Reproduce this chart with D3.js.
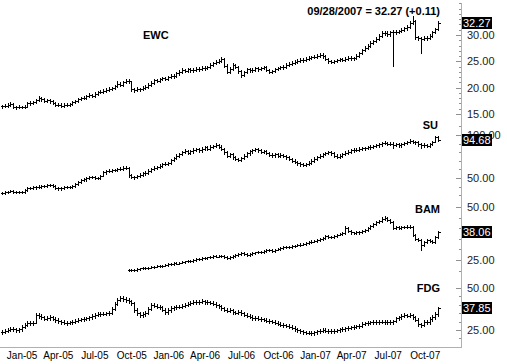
<!DOCTYPE html>
<html>
<head>
<meta charset="utf-8">
<script src="https://cdn.jsdelivr.net/npm/d3@7"></script>
<style>
body { margin: 0; background: #fff; }
svg { display: block; font-family: "Liberation Sans", Arial, sans-serif; }
</style>
</head>
<body>
<svg id="vis"></svg>
<script>
const plotWidth = 507;
const plotHeight = 364;
const axisX = 461;
const svg = d3.select('#vis')
            .attr('width', plotWidth)
            .attr('height', plotHeight);

// weekly bars, Friday closes
const firstWeek = '2004-10-08';
const lastWeek = '2007-09-28';
const monthLabels = ['Jan-05', 'Apr-05', 'Jul-05', 'Oct-05', 'Jan-06', 'Apr-06',
                     'Jul-06', 'Oct-06', 'Jan-07', 'Apr-07', 'Jul-07', 'Oct-07'];
const title = '09/28/2007 = 32.27 (+0.11)';

const ewcClose = [16.5,16.6,16.8,16.9,16.4,16.3,16.4,16.3,16.4,17.0,
17.1,17.2,17.6,18.0,17.8,17.5,17.6,17.4,17.1,16.7,
16.8,16.6,16.8,16.7,16.9,17.2,17.5,17.8,18.0,18.1,
18.4,18.6,18.5,18.8,19.1,19.2,19.4,19.6,19.8,19.9,
20.3,20.7,20.6,21.0,21.3,21.2,19.7,19.6,19.8,19.7,
20.0,20.2,20.5,20.9,21.4,21.3,21.6,21.8,21.7,22.0,
22.3,22.2,22.7,23.0,23.4,23.2,23.5,23.3,23.4,23.6,
23.5,23.8,23.7,23.9,24.3,24.6,24.9,25.1,25.4,24.2,
23.0,23.6,24.3,24.0,23.1,22.4,22.9,23.5,23.3,23.4,
23.7,23.5,23.7,23.9,23.4,23.0,23.1,23.5,23.7,23.9,
24.0,24.3,24.5,24.7,24.9,25.1,25.3,25.2,25.5,25.7,
25.8,25.9,26.1,26.2,26.0,25.5,25.0,24.9,25.0,25.2,
25.4,25.3,25.5,25.7,25.6,25.6,26.0,26.5,27.1,27.6,
28.0,28.5,28.8,29.3,29.8,30.3,30.4,30.2,30.5,30.6,
30.5,30.7,30.9,31.3,31.5,32.2,32.7,29.6,29.4,29.3,
29.5,29.4,29.8,30.5,31.1,32.27];
const ewcHigh = [16.8,16.9,17.0,17.2,17.1,16.6,16.7,16.6,16.7,17.2,
17.4,17.5,17.9,18.4,18.2,18.0,17.9,17.8,17.6,17.3,
17.0,17.0,17.1,17.0,17.1,17.4,17.7,18.1,18.3,18.4,
18.7,18.9,18.8,19.1,19.4,19.5,19.7,19.9,20.1,20.2,
20.6,21.2,21.0,21.3,21.7,21.6,21.3,20.0,20.1,20.0,
20.3,20.5,20.8,21.2,21.7,21.7,21.9,22.1,22.1,22.3,
22.6,22.6,23.0,23.3,23.7,23.6,23.8,23.7,23.7,23.9,
23.9,24.1,24.1,24.2,24.6,24.9,25.2,25.4,25.8,25.6,
24.4,23.9,24.6,24.5,24.2,23.3,23.2,23.8,23.8,23.7,
24.0,24.0,24.0,24.2,24.1,23.6,23.4,23.8,24.0,24.2,
24.3,24.6,24.8,25.0,25.2,25.4,25.6,25.6,25.8,26.0,
26.1,26.2,26.4,26.6,26.5,26.2,25.7,25.3,25.3,25.5,
25.7,25.7,25.8,26.0,26.0,25.9,26.3,26.8,27.4,27.9,
28.3,28.8,29.1,29.6,30.1,30.7,30.8,30.7,30.8,31.0,
30.9,31.0,31.3,31.6,31.9,32.6,33.6,32.9,29.9,29.7,
29.8,29.8,30.1,30.8,31.4,32.6];
const ewcLow = [16.2,16.3,16.4,16.6,16.2,16.0,16.1,16.1,16.1,16.3,
16.8,16.9,17.0,17.4,17.5,17.2,17.3,17.1,16.9,16.5,
16.5,16.3,16.4,16.5,16.5,16.7,17.0,17.3,17.6,17.8,
17.9,18.2,18.2,18.3,18.6,18.9,19.0,19.2,19.4,19.5,
19.7,20.1,20.3,20.4,20.8,20.9,19.4,19.2,19.3,19.4,
19.5,19.8,20.0,20.3,20.7,21.0,21.1,21.4,21.4,21.5,
21.8,21.9,22.0,22.5,22.8,22.9,23.0,23.0,23.0,23.2,
23.2,23.3,23.4,23.5,23.7,24.1,24.4,24.7,24.9,24.0,
22.7,22.8,23.4,23.7,22.8,22.1,22.2,22.7,23.0,23.0,
23.2,23.2,23.3,23.5,23.1,22.7,22.8,22.9,23.3,23.5,
23.6,23.8,24.1,24.3,24.5,24.7,24.9,24.9,25.0,25.3,
25.5,25.6,25.7,25.9,25.7,25.2,24.7,24.6,24.6,24.8,
25.0,25.0,25.1,25.3,25.3,25.3,25.4,25.8,26.3,26.9,
27.4,27.8,28.3,28.6,29.1,29.6,30.0,29.9,29.9,24.1,
30.2,30.3,30.5,30.7,31.0,31.3,32.0,29.3,29.1,26.6,
29.0,29.1,29.2,29.6,30.3,30.9];

const suClose = [32.6,33.5,34.2,34.9,34.0,33.5,33.8,33.7,35.5,38.0,
38.6,39.4,39.0,40.0,40.5,41.0,41.5,42.0,40.5,38.5,
37.8,38.6,39.0,39.2,39.5,40.3,42.5,45.0,47.5,48.3,
49.5,51.0,51.2,50.2,50.0,52.5,56.5,57.8,58.5,59.0,
59.3,60.2,61.0,61.8,61.5,53.0,51.2,51.0,52.5,54.0,
55.5,56.0,58.5,60.5,62.0,62.8,64.5,66.0,66.5,67.4,
70.5,73.0,76.0,77.5,80.0,81.5,79.0,81.0,82.6,83.5,
82.0,84.0,85.5,84.0,86.0,87.0,88.5,86.5,84.0,80.0,
76.0,77.5,74.0,72.0,71.0,73.0,76.0,78.5,81.0,82.6,
83.5,82.0,80.5,81.5,79.0,77.0,76.5,77.5,76.0,77.0,
75.5,74.0,72.0,70.0,68.5,67.0,66.0,65.0,66.5,68.0,
70.0,72.5,74.0,76.0,77.5,79.0,80.0,78.5,76.0,74.5,
76.0,78.0,79.5,80.5,82.0,83.0,82.5,84.0,85.0,84.5,
85.5,86.5,87.0,88.0,89.0,90.5,91.0,89.5,90.0,88.5,
89.0,88.0,89.5,90.5,91.5,93.0,92.0,91.5,89.0,88.0,
88.5,87.5,89.0,92.0,97.5,94.68];
const suHigh = [33.8,34.8,35.4,36.3,35.9,35.2,35.0,35.1,36.8,39.3,
40.1,40.9,40.6,41.6,42.0,42.4,43.0,43.6,43.2,41.4,
39.6,40.0,40.4,40.7,41.0,41.8,43.9,46.5,49.0,49.8,
51.0,52.6,52.9,52.6,51.7,54.0,58.0,59.4,60.0,60.6,
61.0,61.8,62.7,63.5,63.4,62.4,54.2,52.8,54.0,55.6,
57.0,57.6,60.0,62.0,63.6,64.5,66.0,67.6,68.2,69.0,
72.0,74.6,77.6,79.2,81.8,83.2,83.0,82.6,84.4,85.2,
85.0,85.8,87.2,87.0,87.8,88.8,90.4,90.0,88.0,85.4,
81.4,79.2,78.8,75.6,73.6,74.6,77.5,80.0,82.6,84.2,
85.2,85.0,83.6,83.0,82.8,80.4,78.6,79.0,79.0,78.6,
78.4,77.0,75.4,73.4,71.6,70.0,68.4,67.4,68.0,69.6,
71.6,74.0,75.6,77.6,79.0,80.6,81.6,81.4,79.8,77.4,
77.6,79.6,81.0,82.0,83.6,84.6,84.4,85.6,86.6,86.4,
87.0,88.0,88.6,89.6,90.6,92.0,92.6,92.4,91.6,91.4,
90.6,90.4,91.0,92.0,93.2,94.8,94.6,93.6,92.8,90.6,
90.2,90.0,90.6,93.6,99.0,98.6];
const suLow = [31.4,31.5,32.4,33.2,32.8,32.1,32.2,32.4,33.1,35.0,
37.2,37.5,37.6,38.0,38.8,39.4,39.7,40.3,39.2,37.0,
36.2,36.5,37.4,37.8,37.9,38.3,39.6,41.8,44.2,46.2,
47.0,48.3,49.6,48.8,48.4,49.0,51.8,55.2,56.4,57.0,
57.6,57.8,58.8,59.6,60.0,51.5,49.5,49.3,49.6,51.2,
52.8,54.0,55.2,57.4,59.2,60.6,61.5,63.2,64.6,65.0,
66.5,69.4,72.0,74.6,76.4,78.6,77.4,77.6,79.6,81.0,
80.4,80.8,82.6,82.4,82.8,84.6,85.6,85.0,82.4,78.2,
74.4,74.6,72.2,70.4,69.2,69.6,71.8,74.8,77.2,79.6,
81.0,80.4,79.0,79.0,77.4,75.6,75.0,75.0,74.6,74.6,
74.0,72.4,70.6,68.4,67.0,65.4,64.2,63.4,63.8,65.2,
66.8,68.8,71.2,72.8,74.6,76.2,77.6,77.0,74.6,73.0,
73.2,74.8,76.8,78.2,79.2,80.8,81.0,81.2,82.8,83.0,
83.2,84.2,85.2,85.6,86.6,87.6,89.2,88.0,88.0,85.0,
87.0,86.6,86.6,88.0,89.2,90.2,90.4,89.8,87.4,85.2,
86.4,86.0,86.2,88.2,91.4,93.2];

// BAM begins later than the others
const bamFirstWeek = '2005-08-19';
const bamClose = [20.3,20.5,20.2,20.6,21.0,21.2,21.0,21.4,21.7,21.9,
22.2,22.0,22.4,22.8,23.0,23.2,23.5,23.3,23.8,24.0,
24.3,24.6,24.4,24.9,25.3,25.6,26.0,25.8,26.2,26.5,
26.8,26.6,27.0,26.9,26.3,26.0,26.5,26.8,27.3,27.8,
28.3,27.9,27.5,27.8,28.2,28.6,28.9,28.7,29.2,29.5,
29.7,29.4,29.9,30.3,30.6,30.9,31.2,31.0,31.5,31.8,
32.0,32.3,32.6,33.0,33.4,33.7,34.0,34.4,34.8,35.5,
36.2,36.0,35.7,36.4,37.0,37.3,37.8,40.0,38.6,38.0,
37.8,38.2,38.0,38.5,39.2,40.0,41.0,42.0,42.9,43.5,
44.5,44.8,44.0,43.0,40.0,40.6,40.3,40.7,40.5,40.8,
40.6,36.8,35.0,34.4,32.0,33.5,34.4,34.0,33.5,35.8,
38.06];
const bamHigh = [20.8,20.9,20.8,21.0,21.4,21.6,21.6,21.8,22.1,22.3,
22.6,22.6,22.8,23.2,23.4,23.6,23.9,23.9,24.2,24.5,
24.7,25.0,25.0,25.3,25.8,26.0,26.5,26.4,26.6,27.0,
27.3,27.2,27.5,27.5,27.3,26.7,26.9,27.2,27.7,28.2,
28.8,28.7,28.3,28.2,28.6,29.0,29.4,29.3,29.6,30.0,
30.2,30.1,30.3,30.8,31.0,31.4,31.6,31.6,31.9,32.3,
32.5,32.8,33.0,33.5,33.9,34.2,34.5,34.9,35.3,36.0,
36.8,36.7,36.4,36.9,37.5,37.8,38.3,41.0,40.4,39.0,
38.4,38.7,38.6,39.0,39.7,40.5,41.5,42.6,43.5,44.1,
45.1,45.6,45.3,44.5,43.4,41.2,41.0,41.2,41.1,41.3,
41.3,41.0,37.3,35.5,34.8,34.0,34.9,34.9,34.4,36.3,
38.5];
const bamLow = [19.9,20.0,19.8,19.9,20.3,20.6,20.6,20.7,21.0,21.3,
21.5,21.6,21.6,22.0,22.4,22.6,22.8,22.9,22.9,23.4,
23.6,23.9,24.0,24.0,24.5,24.9,25.2,25.3,25.4,25.8,
26.1,26.2,26.2,26.4,25.8,25.5,25.6,26.1,26.4,26.9,
27.4,27.4,27.0,27.1,27.4,27.8,28.2,28.3,28.3,28.8,
29.1,29.0,29.0,29.5,29.9,30.2,30.5,30.6,30.6,31.1,
31.4,31.6,31.9,32.2,32.6,33.0,33.3,33.6,34.0,34.4,
35.1,35.6,35.2,35.3,36.0,36.6,36.9,37.5,38.1,37.5,
37.3,37.4,37.5,37.6,38.1,38.8,39.6,40.6,41.6,42.4,
43.0,44.0,43.5,42.4,39.4,39.5,39.8,39.8,40.0,40.0,
40.1,36.2,34.5,33.8,29.7,31.5,33.0,33.4,33.0,33.1,
35.4];

const fdgClose = [23.8,24.5,25.2,25.6,25.3,25.0,25.4,26.8,28.2,29.2,
29.0,29.4,34.0,33.5,32.7,31.8,32.2,32.7,31.8,31.0,
30.3,29.8,29.4,29.2,29.6,30.0,30.6,31.0,31.4,31.8,
32.0,32.5,33.3,34.0,34.5,34.8,34.6,35.0,35.2,37.5,
40.5,42.9,44.0,43.5,42.9,42.0,41.0,36.9,35.0,33.9,
34.5,35.2,37.5,39.9,39.5,38.9,38.5,37.0,35.7,36.8,
38.0,38.4,38.7,38.9,39.5,39.9,40.5,41.2,41.7,41.5,
41.7,42.2,41.5,41.6,41.1,40.6,39.8,39.0,38.0,37.2,
36.5,36.8,35.7,35.4,35.8,35.0,34.2,33.5,33.0,32.0,
32.4,31.8,31.3,31.0,30.6,30.2,29.8,29.3,28.7,28.2,
27.8,27.4,26.8,26.2,25.5,24.8,24.2,23.8,23.5,23.3,
23.2,23.6,24.2,24.6,25.0,24.7,24.3,24.4,24.6,24.9,
25.3,25.6,25.9,26.2,26.5,26.8,27.2,27.6,28.6,28.9,
29.2,29.5,29.8,29.6,30.0,29.8,29.5,29.9,29.7,30.2,
32.0,32.5,33.4,33.9,33.6,33.9,32.7,31.0,28.5,28.0,
29.8,29.5,31.5,32.7,34.5,37.85];
const fdgHigh = [24.8,25.4,26.1,26.6,26.5,26.2,26.4,27.8,29.2,30.2,
30.1,30.5,35.4,35.2,34.4,33.6,33.2,33.7,33.6,32.7,
31.9,31.2,30.7,30.3,30.6,31.0,31.6,32.0,32.4,32.8,
33.0,33.5,34.3,35.0,35.5,35.8,35.7,36.0,36.2,38.6,
41.6,44.0,45.2,45.0,44.4,43.8,42.9,41.8,37.8,35.9,
35.5,36.2,38.5,41.0,40.9,40.4,39.8,39.4,37.9,37.8,
39.0,39.4,39.7,39.9,40.5,40.9,41.5,42.2,42.7,42.6,
42.7,43.2,43.1,42.6,42.5,42.0,41.5,40.7,39.9,38.9,
38.1,37.8,37.7,36.6,36.8,36.7,35.9,35.1,34.4,33.9,
33.4,33.3,32.7,32.2,31.9,31.5,31.1,30.7,30.2,29.6,
29.1,28.7,28.3,27.7,27.1,26.4,25.7,25.1,24.7,24.4,
24.2,24.6,25.2,25.6,26.0,25.9,25.6,25.3,25.5,25.8,
26.2,26.5,26.8,27.1,27.4,27.7,28.1,28.5,29.6,29.8,
30.1,30.4,30.8,30.7,31.0,30.9,30.7,30.8,30.8,31.2,
33.0,33.5,34.4,34.9,34.8,34.9,34.8,33.6,31.9,29.4,
30.8,30.7,32.5,33.7,35.5,38.8];
const fdgLow = [22.9,23.0,23.6,24.3,24.4,24.0,24.1,24.6,25.9,27.3,
28.0,28.1,29.0,32.4,31.6,30.8,30.9,31.2,30.8,30.0,
29.3,28.8,28.4,28.2,28.3,28.7,29.1,29.7,30.1,30.5,
30.9,31.1,31.6,32.4,33.1,33.6,33.7,33.7,34.1,34.6,
36.9,39.8,42.0,42.4,41.8,41.0,40.0,36.0,34.0,32.9,
33.0,33.6,34.6,37.0,38.6,38.0,37.6,36.1,34.8,34.8,
36.0,37.1,37.5,37.8,38.0,38.6,39.0,39.6,40.3,40.5,
40.6,40.8,40.6,40.6,40.2,39.7,38.9,38.1,37.1,36.3,
35.6,35.6,34.8,34.5,34.5,34.1,33.3,32.6,32.1,31.1,
31.1,30.9,30.4,30.1,29.7,29.3,28.9,28.4,27.8,27.3,
26.9,26.5,25.9,25.3,24.6,23.9,23.3,22.9,22.6,22.4,
22.3,22.3,22.7,23.3,23.7,23.8,23.4,23.4,23.5,23.7,
24.0,24.4,24.7,25.0,25.3,25.6,25.9,26.3,26.7,27.7,
28.0,28.3,28.6,28.7,28.7,28.9,28.6,28.6,28.8,28.8,
29.6,31.1,31.6,32.5,32.7,32.7,31.8,30.1,27.6,26.8,
27.1,28.6,28.6,30.6,31.8,33.6];


function main() {
    const parseDay = d3.timeParse('%Y-%m-%d');
    const weeks = d3.timeFriday.range(parseDay(firstWeek), d3.timeDay.offset(parseDay(lastWeek), 1));

    const x = d3.scaleTime()
                .domain([weeks[0], weeks[weeks.length - 1]])
                .range([2, 438]);

    const panels = [
        {name: 'EWC', close: ewcClose, high: ewcHigh, low: ewcLow, first: firstWeek,
         domain: [15, 30], range: [114, 35], top: 3, bottom: 117, minor: 1,
         major: [15, 20, 25, 30], label: [143, 39, 'start']},
        {name: 'SU', close: suClose, high: suHigh, low: suLow, first: firstWeek,
         domain: [50, 100], range: [178, 135], top: 118, bottom: 196, minor: 10,
         major: [50, 100], label: [438, 129, 'end']},
        {name: 'BAM', close: bamClose, high: bamHigh, low: bamLow, first: bamFirstWeek,
         domain: [25, 50], range: [260, 207], top: 199, bottom: 273, minor: 5,
         major: [25, 50], label: [440, 213, 'end']},
        {name: 'FDG', close: fdgClose, high: fdgHigh, low: fdgLow, first: firstWeek,
         domain: [25, 50], range: [330, 288], top: 281, bottom: 346, minor: 5,
         major: [25, 50], label: [440, 292, 'end']},
    ];

    // frame: right price axis and bottom date axis
    svg.append('line')
        .attr('x1', axisX + 0.5).attr('x2', axisX + 0.5)
        .attr('y1', 3).attr('y2', 347)
        .attr('stroke', '#b0b0b0');
    svg.append('line')
        .attr('x1', 0).attr('x2', axisX + 1)
        .attr('y1', 347.5).attr('y2', 347.5)
        .attr('stroke', '#b0b0b0');

    panels.forEach(p => drawPanel(p, weeks, x));

    // date labels
    const parseMonth = d3.timeParse('%b-%y');
    svg.selectAll('.month').data(monthLabels).enter()
        .append('text')
        .attr('x', d => x(parseMonth(d)) - 14)
        .attr('y', 359)
        .attr('text-anchor', 'middle')
        .style('font-size', '10px')
        .text(d => d);

    svg.append('text')
        .attr('x', 440)
        .attr('y', 15)
        .attr('text-anchor', 'end')
        .style('font-size', '11px')
        .style('font-weight', 'bold')
        .text(title);
}


function drawPanel(p, weeks, x) {
    const y = d3.scaleLinear().domain(p.domain).range(p.range);
    const start = weeks.findIndex(w => d3.timeFormat('%Y-%m-%d')(w) === p.first);
    const g = svg.append('g').attr('shape-rendering', 'crispEdges');

    // minor ticks on the price axis
    const lo = y.invert(p.bottom), hi = y.invert(p.top);
    const minorVals = d3.range(Math.ceil(lo / p.minor) * p.minor, hi + 1e-9, p.minor);
    g.selectAll('.minor').data(minorVals).enter()
        .append('line')
        .attr('x1', d => p.major.includes(d) ? axisX - 5 : axisX - 2)
        .attr('x2', axisX)
        .attr('y1', d => Math.round(y(d)) + 0.5)
        .attr('y2', d => Math.round(y(d)) + 0.5)
        .attr('stroke', '#909090');

    g.selectAll('.tick').data(p.major).enter()
        .append('text')
        .attr('x', 467)
        .attr('y', d => y(d) + 4)
        .style('font-size', '11px')
        .attr('fill', '#222')
        .text(d => d3.format('.2f')(d));

    // weekly OHLC bars, open tick taken from the prior close
    const bars = p.close.map((c, j) => ({
        date: weeks[start + j],
        open: j > 0 ? p.close[j - 1] : c,
        high: p.high[j],
        low: p.low[j],
        close: c,
    }));
    const px = d => Math.round(x(d.date)) + 0.5;
    const py = v => Math.round(y(v)) + 0.5;
    g.selectAll('.bar').data(bars).enter()
        .append('path')
        .attr('d', d => `M${px(d)},${py(d.high) - 0.5}V${py(d.low) + 0.5}` +
                        `M${px(d) - 2},${py(d.open)}H${px(d)}` +
                        `M${px(d)},${py(d.close)}H${px(d) + 2}`)
        .attr('stroke', '#000')
        .attr('fill', 'none');

    svg.append('text')
        .attr('x', p.label[0])
        .attr('y', p.label[1])
        .attr('text-anchor', p.label[2])
        .style('font-size', '11px')
        .style('font-weight', 'bold')
        .text(p.name);

    // last price tag
    const last = p.close[p.close.length - 1];
    svg.append('rect')
        .attr('x', axisX + 1)
        .attr('y', Math.round(y(last)) - 6)
        .attr('width', 30)
        .attr('height', 12)
        .attr('fill', '#000');
    svg.append('text')
        .attr('x', axisX + 2)
        .attr('y', Math.round(y(last)) + 4)
        .style('font-size', '11px')
        .attr('fill', '#fff')
        .text(d3.format('.2f')(last));
}


main()
</script>
</body>
</html>
